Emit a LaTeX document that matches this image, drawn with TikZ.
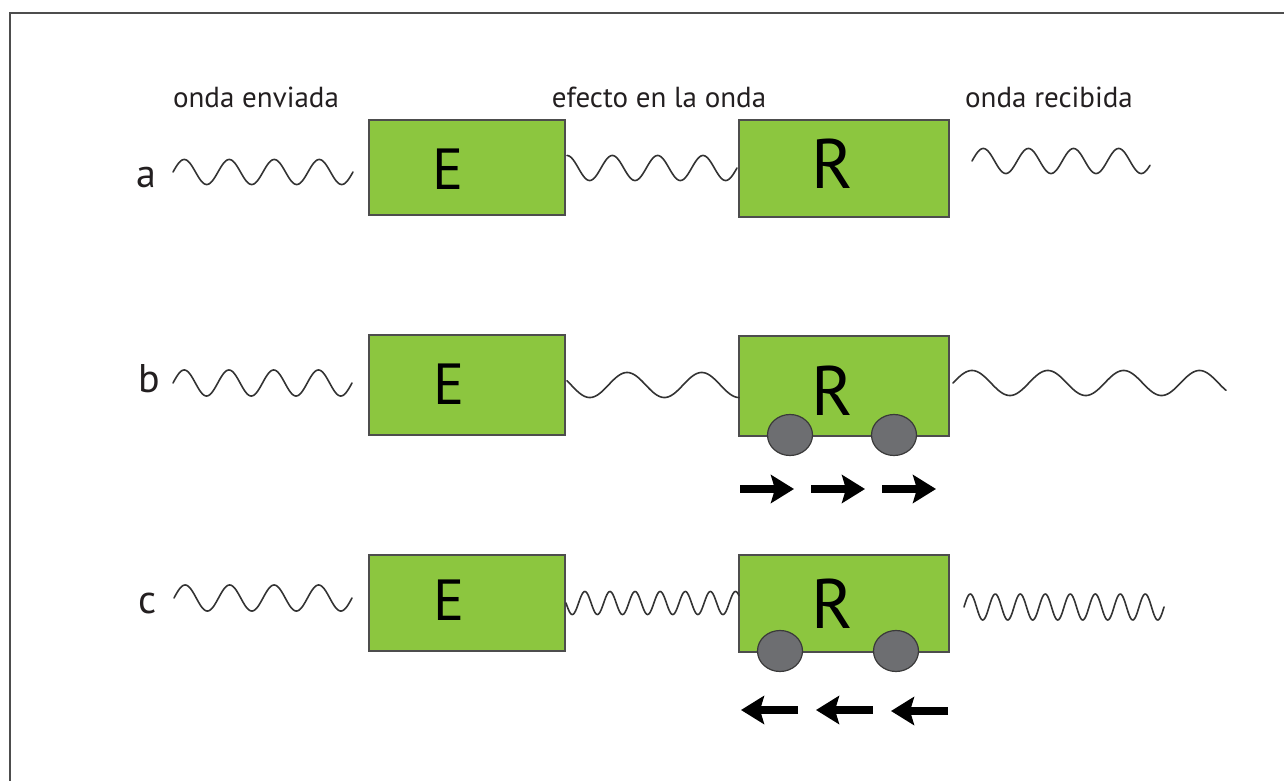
\documentclass[tikz,border=0pt]{standalone}
\usepackage{fontspec}
\setmainfont{PT Sans}
\usetikzlibrary{arrows.meta,shapes.geometric}
\definecolor{boxgreen}{HTML}{8CC63F}
\definecolor{boxedge}{HTML}{4D4D4D}
\definecolor{wheelgray}{HTML}{6D6E71}
\definecolor{wheeledge}{HTML}{3A3A3A}
\definecolor{inkc}{HTML}{231F20}
\definecolor{waveink}{HTML}{333333}
% #2 x start, #3 x end, #4 centre y, #5 amplitude, #6 start phase (deg), #7 end phase (deg)
\newcommand\wavepath[7][]{\draw[wave,#1] plot[domain=#6:#7, samples=260, variable=\t] ({#2+(\t-(#6))/((#7)-(#6))*((#3)-(#2))}, {#4-#5*sin(\t)});}
\begin{document}
\begin{tikzpicture}[x=1pt,y=-1pt,
  box/.style={draw=boxedge, line width=1.5pt, fill=boxgreen, rectangle, inner sep=0pt},
  wheel/.style={draw=wheeledge, line width=1.2pt, fill=wheelgray, ellipse, inner sep=0pt, minimum width=45pt, minimum height=41pt},
  wave/.style={draw=waveink, line width=1.6pt, line join=round, line cap=round},
  toplabel/.style={text=inkc, font=\fontsize{29}{33}\selectfont, inner sep=0pt},
  rowlabel/.style={text=inkc, font=\fontsize{40}{44}\selectfont, inner sep=0pt, anchor=base},
  eletter/.style={text=black, font=\fontsize{58}{62}\selectfont, inner sep=0pt, anchor=base},
  rletter/.style={text=black, font=\fontsize{70}{74}\selectfont, inner sep=0pt, anchor=base},
  motion/.style={draw=black, line width=8pt, -{Stealth[length=23pt,width=28pt,inset=4pt]}}]
\useasboundingbox (0,0) rectangle (1284,781);
% frame
\draw[boxedge, line width=2pt] (10,790) -- (10,13) -- (1295,13);

% top labels
\node[toplabel] (lsent) at (256,97) {onda enviada};
\node[toplabel] (leff) at (659,97) {efecto en la onda};
\node[toplabel] (lrec) at (1049,97) {onda recibida};

% row labels
\node[rowlabel] (la) at (146,187) {a};
\node[rowlabel] (lb) at (149,392) {b};
\node[rowlabel] (lc) at (148,613) {c};

% boxes row a
\node[box, minimum width=196pt, minimum height=95pt] (Ea) at (467,167.5) {};
\node[box, minimum width=210pt, minimum height=97pt] (Ra) at (844,168.5) {};
% boxes row b
\node[box, minimum width=196pt, minimum height=100pt] (Eb) at (467,385) {};
\node[box, minimum width=210pt, minimum height=100pt] (Rb) at (844,386) {};
% boxes row c
\node[box, minimum width=196pt, minimum height=96pt] (Ec) at (467,603) {};
\node[box, minimum width=210pt, minimum height=97pt] (Rc) at (844,603.5) {};

% letters
\node[eletter] (Eat) at (448,189) {E};
\node[rletter] (Rat) at (832,188) {R};
\node[eletter] (Ebt) at (449,404) {E};
\node[rletter] (Rbt) at (832,415) {R};
\node[eletter] (Ect) at (449,620) {E};
\node[rletter] (Rct) at (832,628) {R};

% wheels
\node[wheel] (wb1) at (790,435) {};
\node[wheel] (wb2) at (894,435) {};
\node[wheel] (wc1) at (780,651) {};
\node[wheel] (wc2) at (896,651) {};

% waves row a
\wavepath{173}{353}{172}{12.5}{0}{1440}
\wavepath{567}{737}{168}{12.5}{90}{1440}
\wavepath{972}{1150}{161}{12.5}{0}{1420}
% waves row b
\wavepath{173}{352}{383}{13}{0}{1440}
\wavepath{567}{739}{385}{12.5}{-200}{630}
\wavepath{953}{1226}{383}{12.5}{0}{1296}
% waves row c
\wavepath{174}{352}{598}{13}{0}{1440}
\wavepath{566}{739}{603}{11.5}{180}{2660}
\wavepath{964}{1164}{607}{13}{0}{2880}

% motion arrows row b
\coordinate (b1s) at (740,489); \coordinate (b1e) at (794,489);
\coordinate (b2s) at (811,489); \coordinate (b2e) at (865,489);
\coordinate (b3s) at (882,489); \coordinate (b3e) at (936,489);
\draw[motion] (b1s) -- (b1e);
\draw[motion] (b2s) -- (b2e);
\draw[motion] (b3s) -- (b3e);
% motion arrows row c
\coordinate (c1s) at (798,710); \coordinate (c1e) at (741,710);
\coordinate (c2s) at (873,710); \coordinate (c2e) at (816,710);
\coordinate (c3s) at (948,711); \coordinate (c3e) at (891,711);
\draw[motion] (c1s) -- (c1e);
\draw[motion] (c2s) -- (c2e);
\draw[motion] (c3s) -- (c3e);
\end{tikzpicture}
\end{document}
